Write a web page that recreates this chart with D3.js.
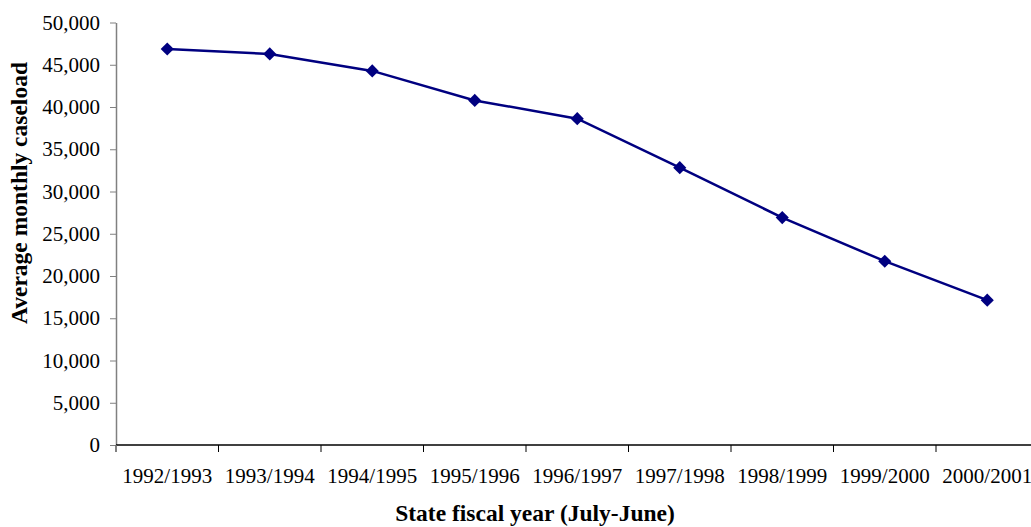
<!DOCTYPE html>
<html>
<head>
<meta charset="utf-8">
<script src="https://cdn.jsdelivr.net/npm/d3@7"></script>
<style>
  body { margin: 0; background: #fff; }
  svg text { font-family: "Liberation Serif", "Times New Roman", serif; fill: #000; }
  .title { font-weight: bold; font-size: 23.5px; }
</style>
</head>
<body>
<div id="chart"></div>
<script>
// fiscal years (categories)
const years = ["1992/1993", "1993/1994", "1994/1995", "1995/1996", "1996/1997",
  "1997/1998", "1998/1999", "1999/2000", "2000/2001"];
// average monthly caseload
const caseload = [46870, 46280, 44270, 40780, 38620, 32820, 26910, 21750, 17140];
// y tick values
const yTicks = [0, 5000, 10000, 15000, 20000, 25000, 30000, 35000, 40000, 45000, 50000];

const width = 1031;
const height = 527;
const margins = { top: 22.5, right: -7.5, bottom: 82, left: 116 };

const svg = d3.select("#chart")
  .append("svg")
  .attr("width", width)
  .attr("height", height);

const x = d3.scaleBand()
  .domain(years)
  .range([margins.left, width - margins.right]);

const y = d3.scaleLinear()
  .domain([0, 50000])
  .range([height - margins.bottom, margins.top]);

// y axis
const yAxis = svg.append("g")
  .attr("transform", `translate(${margins.left}, 0)`)
  .call(d3.axisLeft(y).tickValues(yTicks).tickSize(6).tickSizeOuter(0)
    .tickFormat(d3.format(",")));
yAxis.select(".domain").attr("stroke", "#808080").attr("stroke-width", 1.5);
yAxis.selectAll(".tick line").attr("stroke", "#808080");
yAxis.selectAll(".tick text").attr("font-size", 21).attr("x", -16);

// x axis, ticks at band boundaries
const xAxis = svg.append("g")
  .attr("transform", `translate(0, ${y(0)})`);
xAxis.append("line")
  .attr("x1", margins.left)
  .attr("x2", width)
  .attr("stroke", "#000")
  .attr("stroke-width", 1.5);
xAxis.selectAll(".xtick")
  .data(years)
  .join("line")
  .attr("class", "xtick")
  .attr("x1", d => x(d))
  .attr("x2", d => x(d))
  .attr("y1", 0)
  .attr("y2", 7)
  .attr("stroke", "#000");
xAxis.selectAll(".xlabel")
  .data(years)
  .join("text")
  .attr("class", "xlabel")
  .attr("x", d => x(d) + x.bandwidth() / 2)
  .attr("y", 38)
  .attr("text-anchor", "middle")
  .attr("font-size", 21)
  .text(d => d);

// y axis extends to meet tick below baseline
svg.append("line")
  .attr("x1", margins.left).attr("x2", margins.left)
  .attr("y1", y(0)).attr("y2", y(0) + 7)
  .attr("stroke", "#808080").attr("stroke-width", 1.5);

// axis titles
svg.append("text")
  .attr("class", "title")
  .attr("x", 535)
  .attr("y", 521)
  .attr("text-anchor", "middle")
  .text("State fiscal year (July-June)");

svg.append("text")
  .attr("class", "title")
  .attr("transform", "translate(27, 193) rotate(-90)")
  .attr("text-anchor", "middle")
  .text("Average monthly caseload");

// line
const cx = d => x(d) + x.bandwidth() / 2;
svg.append("path")
  .datum(years.map((d, i) => [cx(d), y(caseload[i])]))
  .attr("fill", "none")
  .attr("stroke", "#000080")
  .attr("stroke-width", 2.5)
  .attr("d", d3.line());

// diamond markers
svg.append("g")
  .selectAll("path")
  .data(years)
  .join("path")
  .attr("transform", (d, i) => `translate(${cx(d)}, ${y(caseload[i])})`)
  .attr("d", d3.symbol(d3.symbolDiamond2, 110))
  .attr("fill", "#000080");
</script>
</body>
</html>
